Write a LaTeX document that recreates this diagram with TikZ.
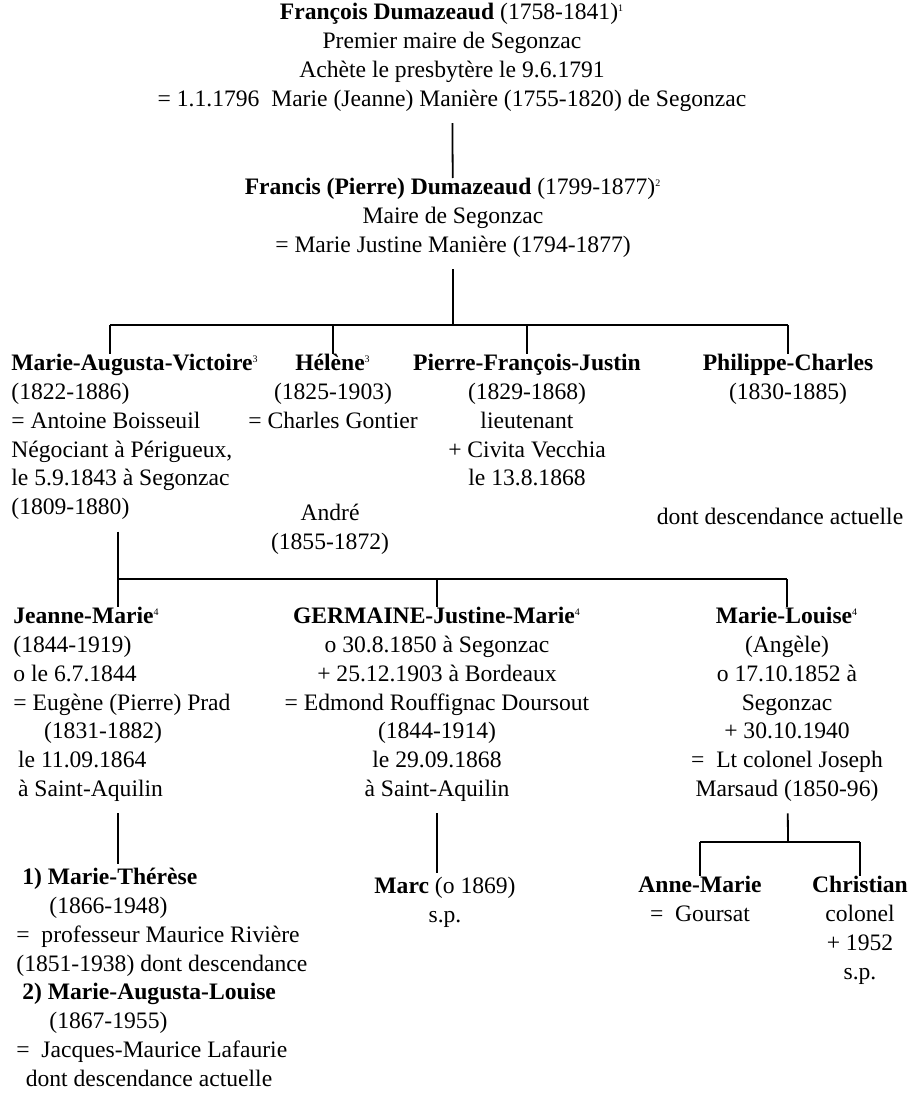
\documentclass[tikz,border=0pt]{standalone}
\usepackage{fontspec}
\setmainfont{Liberation Serif}
\usetikzlibrary{positioning}

\begin{document}
\begin{tikzpicture}[
        x=0.5pt, y=-0.5pt,
        font=\fontsize{11.8}{14.375}\selectfont,
        person/.style={inner sep=0pt, anchor=north, align=center,
          execute at begin node=\strut, execute at end node=\strut},
        personl/.style={person, anchor=north west, align=left},
        link/.style={draw, line width=0.9pt},
        down/.style={link, shorten <=4pt}
      ]
      \useasboundingbox (0,0) rectangle (913,1097);

      % generations 1 and 2
      \node [person] (f_francois) at (452, 3) {\textbf{François
      Dumazeaud} (1758-1841)\textsuperscript{\tiny 1}\\Premier maire de
      Segonzac\\Achète le presbytère le 9.6.1791\\= 1.1.1796\ \ Marie
      (Jeanne) Manière (1755-1820) de Segonzac};
      \node [person] (f_francis) at (453, 178) {\textbf{Francis (Pierre)
      Dumazeaud} (1799-1877)\textsuperscript{\tiny 2}\\Maire de
      Segonzac\\= Marie Justine Manière (1794-1877)};

      % generation 3
      \node [personl] (c_mav) at (11, 354) {\textbf{Marie-Augusta-Victoire}\textsuperscript{\tiny 3}\\(1822-1886)\\=
      Antoine Boisseuil\\Négociant à Périgueux,\\le 5.9.1843 à
      Segonzac\\(1809-1880)};
      \node [person] (c_helene) at (333, 354) {\textbf{Hélène}\textsuperscript{\tiny 3}\\(1825-1903)\\=
      Charles Gontier};
      \node [person] (c_andre) at (330, 504) {André\\(1855-1872)};
      \node [person] (c_pfj) at (527, 354) {\textbf{Pierre-François-Justin}\\(1829-1868)\\lieutenant\\+
      Civita Vecchia\\le 13.8.1868};
      \node [person] (c_philippe) at (788, 354) {\textbf{Philippe-Charles}\\(1830-1885)};
      \node [person] (c_desc) at (780, 504) {dont descendance actuelle};

      % generation 4
      \node [personl] (g_jeanne) at (13, 607) {\textbf{Jeanne-Marie}\textsuperscript{\tiny 4}\\(1844-1919)\\o
      le 6.7.1844\\= Eugène (Pierre) Prad\\\hspace*{1.3em}(1831-1882)\\\hspace*{0.2em}le
      11.09.1864\\\hspace*{0.2em}à Saint-Aquilin};
      \node [person] (g_germaine) at (437, 607) {\textbf{GERMAINE-Justine-Marie}\textsuperscript{\tiny 4}\\o
      30.8.1850 à Segonzac\\+ 25.12.1903 à Bordeaux\\= Edmond Rouffignac
      Doursout\\(1844-1914)\\le 29.09.1868\\à Saint-Aquilin};
      \node [person] (g_louise) at (787, 607) {\textbf{Marie-Louise}\textsuperscript{\tiny 4}\\(Angèle)\\o
      17.10.1852 à\\Segonzac\\+ 30.10.1940\\=\ \ Lt colonel
      Joseph\\Marsaud (1850-96)};

      % generation 5
      \node [personl] (e_prad) at (16, 868) {\hspace*{0.25em}\textbf{1)
      Marie-Thérèse}\\\hspace*{1.4em}(1866-1948)\\=\ \ professeur Maurice
      Rivière\\(1851-1938) dont descendance\\\hspace*{0.25em}\textbf{2)
      Marie-Augusta-Louise}\\\hspace*{1.4em}(1867-1955)\\=\ \
      Jacques-Maurice Lafaurie\\\hspace*{0.4em}dont descendance actuelle};
      \node [person] (e_marc) at (445, 877) {\textbf{Marc} (o 1869)\\s.p.};
      \node [person] (e_anne) at (700, 876) {\textbf{Anne-Marie}\\=\ \ Goursat};
      \node [person] (e_christian) at (860, 876) {\textbf{Christian}\\colonel\\+
      1952\\s.p.};

      % bars
      \coordinate (b_one) at (453, 325);
      \coordinate (b_onew) at (110, 325);
      \coordinate (b_two) at (118, 579);
      \coordinate (b_three) at (788, 842);

      \path [down] (f_francois) -- (f_francis);
      \path [down] (f_francis) -- (b_one);
      \path [link] (b_onew) -- (b_one -| c_philippe);
      \path [link] (b_onew) -- (b_onew |- c_mav.north);
      \path [link] (b_one -| c_helene) -- (c_helene.north);
      \path [link] (b_one -| c_pfj) -- (c_pfj.north);
      \path [link] (b_one -| c_philippe) -- (c_philippe.north);

      \path [down] (c_mav.south -| b_two) -- (b_two);
      \path [link] (b_two) -- (b_two -| g_louise);
      \path [link] (b_two) -- (b_two |- g_jeanne.north);
      \path [link] (b_two -| g_germaine) -- (g_germaine.north);
      \path [link] (b_two -| g_louise) -- (g_louise.north);

      \path [down, shorten >=2pt] (g_jeanne.south -| b_two) -- (e_prad.north -| b_two);
      \path [down, shorten >=2pt] (g_germaine) -- (e_marc.north -| g_germaine);
      \path [down] (g_louise) -- (b_three);
      \path [link] (b_three -| e_anne) -- (b_three -| e_christian);
      \path [link] (b_three -| e_anne) -- (e_anne.north);
      \path [link] (b_three -| e_christian) -- (e_christian.north);

    \end{tikzpicture}
\end{document}
